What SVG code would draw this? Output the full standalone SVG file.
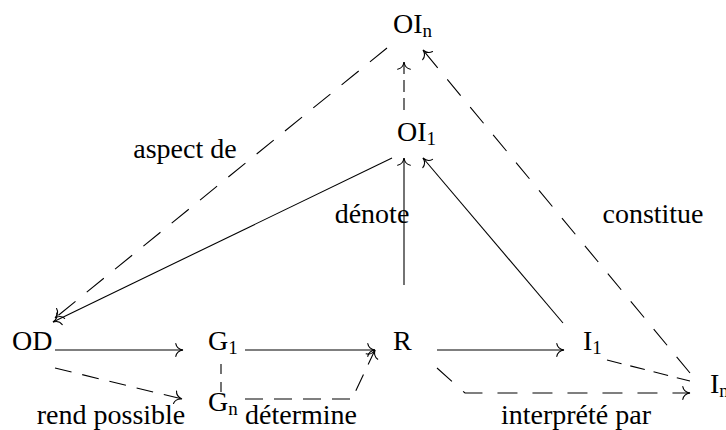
<svg xmlns="http://www.w3.org/2000/svg" width="726" height="430" viewBox="0 0 726 430">
<style>
text{font-family:"Liberation Serif","Times New Roman",serif;font-size:28px;fill:#000}
.sub{font-size:19px}
.e{fill:none;stroke:#000;stroke-width:1.1}
.a{marker-end:url(#to)}
.lbl{text-anchor:middle}
</style>
<defs>
<marker id="to" markerUnits="userSpaceOnUse" viewBox="-9 -8 10 16" refX="0" refY="0" markerWidth="10" markerHeight="16" orient="auto" overflow="visible">
<path d="M-7.2,-6.4 C-6.8,-4 -4.8,-0.8 0,0 C-4.8,0.8 -6.8,4 -7.2,6.4" fill="none" stroke="#000" stroke-width="1.1" stroke-dasharray="none" stroke-linecap="round"/>
</marker>
</defs>
<rect width="726" height="430" fill="#fff"/>
<g id="connectors">
<path class="e a" d="M55,350 L183,350"/>
<path class="e a" d="M245,350 L375,350"/>
<path class="e a" d="M437,350 L564,350"/>
<path class="e a" d="M55,368 L182,399" stroke-dasharray="17 11"/>
<path class="e" d="M221,364 L221,392" stroke-dasharray="10 8"/>
<path class="e a" d="M245,399 L352,399 L375,350" stroke-dasharray="18 11"/>
<path class="e a" d="M437,368 L465,393 L690,393" stroke-dasharray="20 15"/>
<path class="e" d="M607,360 L690,381" stroke-dasharray="15 9"/>
<path class="e a" d="M690,373 L423,50" stroke-dasharray="21 15"/>
<path class="e a" d="M563,323 L423,158"/>
<path class="e a" d="M404,285 L404,158"/>
<path class="e a" d="M404,110 L404,62" stroke-dasharray="12 6"/>
<path class="e a" d="M392,158 L53,322"/>
<path class="e a" d="M387,48 L55,318" stroke-dasharray="22 14.5"/>
</g>
<g id="node-OD"><text x="12" y="350">OD</text></g>
<g id="node-G1"><text x="208" y="350">G<tspan class="sub" dy="4">1</tspan></text></g>
<g id="node-Gn"><text x="208" y="411">G<tspan class="sub" dy="4">n</tspan></text></g>
<g id="node-R"><text x="393" y="350">R</text></g>
<g id="node-I1"><text x="583" y="350">I<tspan class="sub" dy="4">1</tspan></text></g>
<g id="node-In"><text x="710" y="393">I<tspan class="sub" dy="4">n</tspan></text></g>
<g id="node-OI1"><text x="397" y="141">OI<tspan class="sub" dy="4">1</tspan></text></g>
<g id="node-OIn"><text x="393" y="33">OI<tspan class="sub" dy="4">n</tspan></text></g>
<g id="labels">
<text class="lbl" x="185" y="158">aspect de</text>
<text class="lbl" x="372" y="223">dénote</text>
<text class="lbl" x="653" y="223">constitue</text>
<text class="lbl" x="111" y="424">rend possible</text>
<text class="lbl" x="301" y="424">détermine</text>
<text class="lbl" x="576" y="424">interprété par</text>
</g>
</svg>
